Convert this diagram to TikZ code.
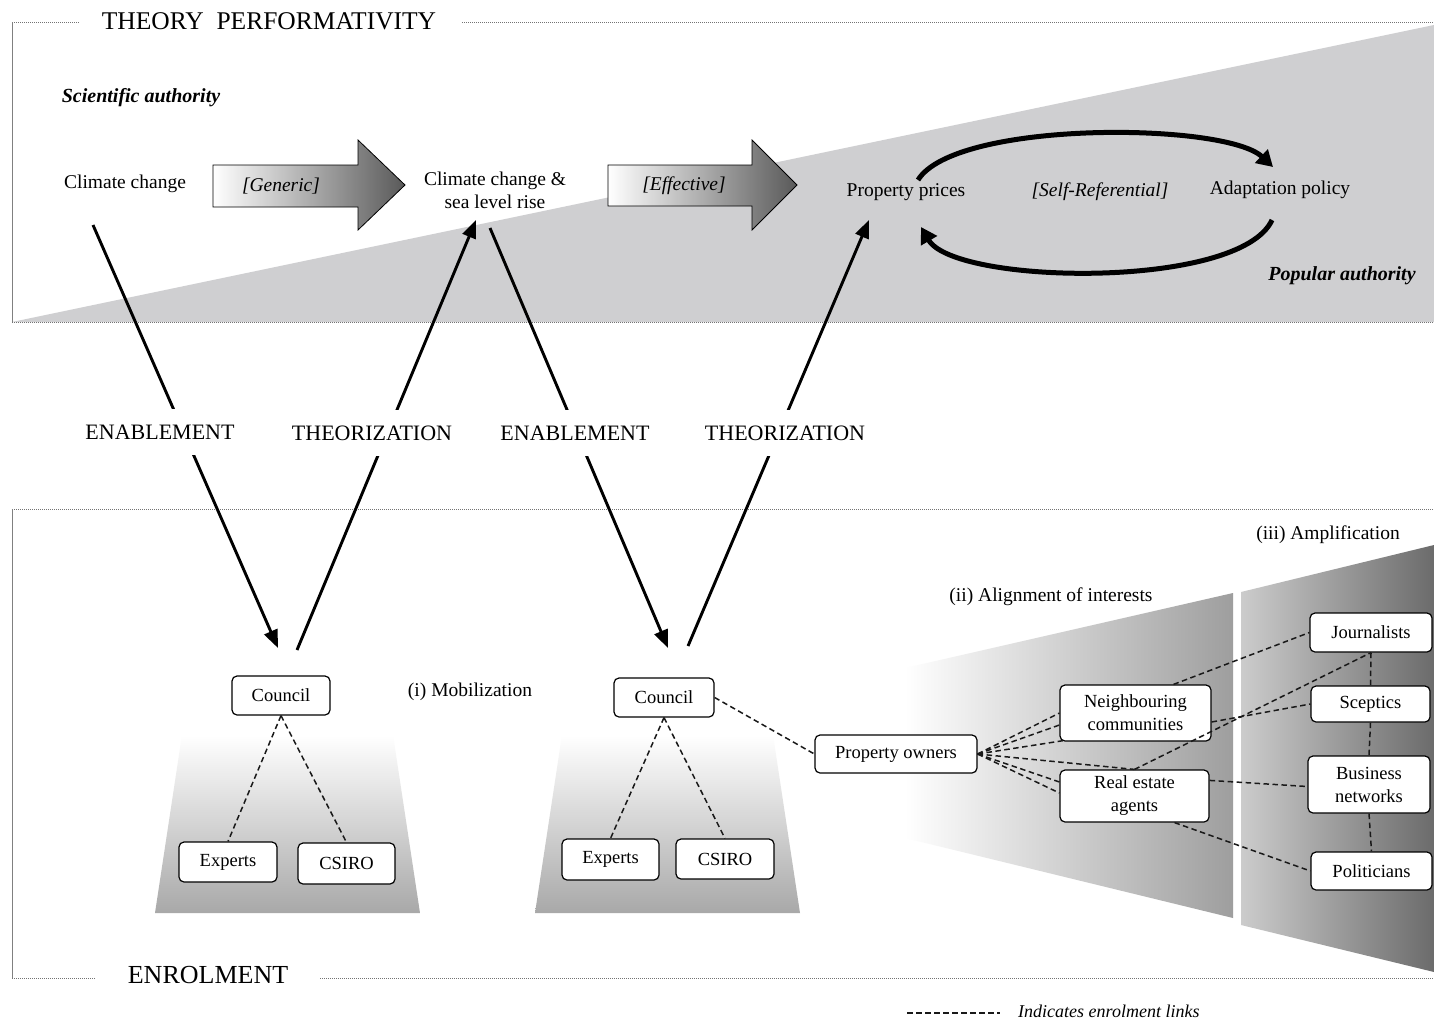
\documentclass[tikz,border=0pt]{standalone}
\usepackage{fontspec}
\setmainfont{Liberation Serif}
\usetikzlibrary{arrows.meta,calc}
\definecolor{topgray}{RGB}{207,207,209}
\begin{document}
\begin{tikzpicture}[x=1pt,y=-1pt,
 box/.style={draw, rounded corners=5pt, line width=1.2pt, fill=white, align=center, inner sep=0pt, font=\fontsize{18.5}{23}\selectfont},
 lbl/.style={font=\fontsize{19.5}{23}\selectfont, align=center, inner sep=0pt},
 ilbl/.style={font=\fontsize{19.5}{23}\selectfont\itshape, align=center, inner sep=0pt},
 stagecap/.style={font=\fontsize{22}{26}\selectfont, fill=white, inner xsep=2pt, inner ysep=16pt},
 enrol/.style={dash pattern=on 5.5pt off 3.5pt, line width=1.5pt, draw=black!90},
 bigarrow/.style={line width=2.9pt, -{Triangle[length=18pt,width=14pt]}},
 looparrow/.style={line width=5pt, -{Triangle[length=16pt,width=18pt]}},
 frameline/.style={dash pattern=on 1pt off 1pt, line width=0.9pt, draw=black!55},
 blockarrow/.style={draw=black, line width=0.8pt, left color=white, right color=black!65},
]
\useasboundingbox (0,0) rectangle (1434,1023);
\fill[white] (0,0) rectangle (1434,1023);

% ---------- top section ----------
\fill[topgray] (12,322) -- (1434,25) -- (1434,322) -- cycle;
\draw[frameline] (12,22) -- (80,22);
\draw[frameline] (462,22) -- (1434,22);
\draw[black!50, line width=1pt] (12,22) -- (12,322);
\draw[frameline] (12,322) -- (1434,322);
\node[font=\fontsize{25.5}{28}\selectfont, inner sep=0pt] (tp) at (269,21) {THEORY\ \ PERFORMATIVITY};

\node[font=\fontsize{20}{23}\selectfont\bfseries\itshape, inner sep=0pt] (sa) at (141,98) {Scientific authority};
\node[font=\fontsize{20}{23}\selectfont\bfseries\itshape, inner sep=0pt] (pa) at (1342,276) {Popular authority};

\node[lbl] (cc) at (125,184) {Climate change};
\node[lbl] (cs) at (495,190) {Climate change \&\\sea level rise};
\node[lbl] (pp) at (906,192) {Property prices};
\node[lbl] (ap) at (1280,190) {Adaptation policy};
\node[ilbl] (sr) at (1100,192) {[Self-Referential]};

\shadedraw[blockarrow] (213,165) -- (358,165) -- (358,140) -- (405,185) -- (358,230) -- (358,207) -- (213,207) -- cycle;
\node[ilbl] (gen) at (281,186) {[Generic]};
\shadedraw[blockarrow] (608,165) -- (752,165) -- (752,140) -- (797,185) -- (752,230) -- (752,206) -- (608,206) -- cycle;
\node[ilbl] (eff) at (684,186) {[Effective]};

\draw[looparrow] (918,180) .. controls (955,120) and (1225,122) .. (1273,167);
\draw[looparrow] (1272,220) .. controls (1240,290) and (955,285) .. (921,227);

% ---------- bottom section ----------
\draw[frameline] (12,509) -- (1434,509);
\draw[black!50, line width=1pt] (12,509) -- (12,978);
\draw[frameline] (12,978) -- (95,978);
\draw[frameline] (320,978) -- (1434,978);
\node[font=\fontsize{26}{28}\selectfont, inner sep=0pt] (en) at (208,975) {ENROLMENT};

% gradient shapes
\shade[top color=white, bottom color=black!34] (182,735) -- (393,735) -- (420,913) -- (155,913) -- cycle;
\shade[top color=white, bottom color=black!34] (562,735) -- (773,735) -- (800,913) -- (535,913) -- cycle;
\shade[left color=white, right color=black!38] (905,668) -- (1233,593) -- (1233,918) -- (905,838) -- cycle;
\shade[left color=black!20, right color=black!58] (1241,592) -- (1434,545) -- (1434,972) -- (1241,925) -- cycle;

\node[lbl] (amp) at (1328,535) {(iii) Amplification};
\node[lbl] (ali) at (1051,597) {(ii) Alignment of interests};
\node[lbl] (mob) at (470,692) {(i) Mobilization};

% boxes
\node[box, minimum width=98pt, minimum height=39pt] (c1) at (281,695.5) {Council};
\node[box, minimum width=98pt, minimum height=40pt] (e1) at (228,862) {Experts};
\node[box, minimum width=97pt, minimum height=41pt] (s1) at (346.5,863.5) {CSIRO};
\node[box, minimum width=100pt, minimum height=39pt] (c2) at (664,697.5) {Council};
\node[box, minimum width=97pt, minimum height=41pt] (e2) at (610.5,859.5) {Experts};
\node[box, minimum width=98pt, minimum height=40pt] (s2) at (725,859) {CSIRO};
\node[box, minimum width=162pt, minimum height=38pt] (po) at (896,754) {Property owners};
\node[box, minimum width=151pt, minimum height=56pt] (nc) at (1135.5,713) {Neighbouring\\communities};
\node[box, minimum width=149pt, minimum height=52pt] (re) at (1134.5,796) {Real estate\\agents};
\node[box, minimum width=122pt, minimum height=39pt] (jo) at (1371,632.5) {Journalists};
\node[box, minimum width=119pt, minimum height=36pt] (sc) at (1370.5,704) {Sceptics};
\node[box, minimum width=122pt, minimum height=57pt] (bn) at (1369,784.5) {Business\\networks};
\node[box, minimum width=121pt, minimum height=38pt] (pl) at (1371.5,871) {Politicians};

% enrolment links
\draw[enrol] (c1.south) -- (e1.north);
\draw[enrol] (c1.south) -- (s1.north);
\draw[enrol] (c2.south) -- (e2.north);
\draw[enrol] (c2.south) -- (s2.north);
\draw[enrol] (c2.east) -- (po.west);
\draw[enrol] (po.east) -- (nc.west);
\draw[enrol] (po.east) -- ($(nc.west)+(0,12)$);
\draw[enrol] (po.east) -- ($(nc.south west)+(4,-1)$);
\draw[enrol] (po.east) -- (re.north);
\draw[enrol] (po.east) -- ($(re.west)+(0,-14)$);
\draw[enrol] (po.east) -- ($(re.west)+(0,-3)$);
\draw[enrol] (re.north) -- (jo.south);
\draw[enrol] ($(nc.north)+(38,0)$) -- (jo.west);
\draw[enrol] ($(nc.east)+(0,9)$) -- (sc.west);
\draw[enrol] ($(re.north east)+(0,11)$) -- ($(bn.west)+(0,2)$);
\draw[enrol] ($(re.south)+(40,0)$) -- (pl.west);
\draw[enrol] (jo.south) -- (sc.north);
\draw[enrol] (sc.south) -- (bn.north);
\draw[enrol] (bn.south) -- (pl.north);

% ---------- black arrows ----------
\coordinate (a1s) at (93,225);
\coordinate (a1e) at (278,648);
\coordinate (a2s) at (297,650);
\coordinate (a2e) at (476,220);
\coordinate (a3s) at (490,228);
\coordinate (a3e) at (668,648);
\coordinate (a4s) at (688,646);
\coordinate (a4e) at (869,220);
\draw[bigarrow] (a1s) -- (a1e);
\draw[bigarrow] (a2s) -- (a2e);
\draw[bigarrow] (a3s) -- (a3e);
\draw[bigarrow] (a4s) -- (a4e);
\node[stagecap] (l1) at (160,432) {ENABLEMENT};
\node[stagecap] (l2) at (372,433) {THEORIZATION};
\node[stagecap] (l3) at (575,433) {ENABLEMENT};
\node[stagecap] (l4) at (785,433) {THEORIZATION};

% legend
\coordinate (lg1) at (907,1013);
\coordinate (lg2) at (1000,1013);
\draw[enrol, line width=1.2pt] (lg1) -- (lg2);
\node[font=\fontsize{18}{20}\selectfont\itshape, anchor=west, inner sep=0pt] (lgt) at (1018,1011) {Indicates enrolment links};
\end{tikzpicture}
\end{document}
